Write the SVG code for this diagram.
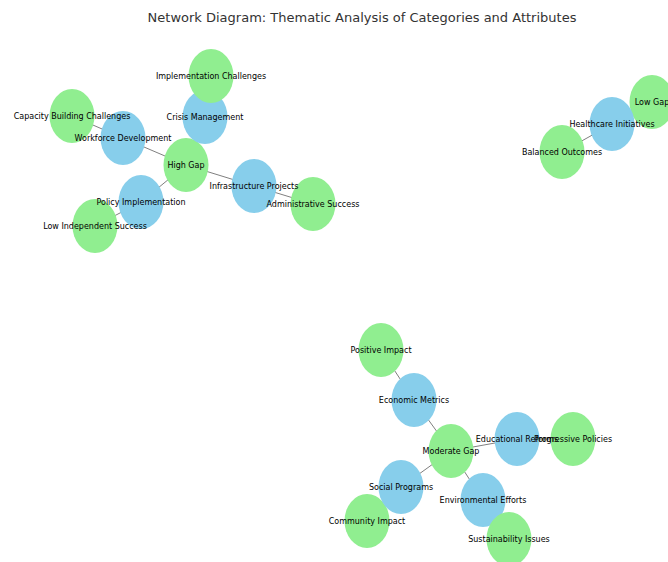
<svg xmlns="http://www.w3.org/2000/svg" width="668" height="562" viewBox="0 0 668 562">
<style>
.e{stroke:#808080;stroke-width:1}
.b{fill:#87CEEB}
.g{fill:#90EE90}
text{font-family:"DejaVu Sans",sans-serif;font-size:8px;fill:#000;text-anchor:middle;dominant-baseline:central}
.t{font-size:13px;fill:#333}
</style>
<rect width="668" height="562" fill="#fff"/>
<text class="t" x="362" y="17">Network Diagram: Thematic Analysis of Categories and Attributes</text>
<g id="connectors">
<line class="e" x1="211" y1="76" x2="205" y2="117"/>
<line class="e" x1="205" y1="117" x2="186" y2="165"/>
<line class="e" x1="72" y1="116" x2="123" y2="138"/>
<line class="e" x1="123" y1="138" x2="186" y2="165"/>
<line class="e" x1="186" y1="165" x2="254" y2="186"/>
<line class="e" x1="254" y1="186" x2="313" y2="204"/>
<line class="e" x1="186" y1="165" x2="141" y2="202"/>
<line class="e" x1="141" y1="202" x2="95" y2="226"/>
<line class="e" x1="562" y1="152" x2="612" y2="124"/>
<line class="e" x1="612" y1="124" x2="652" y2="102"/>
<line class="e" x1="381" y1="350" x2="414" y2="400"/>
<line class="e" x1="414" y1="400" x2="451" y2="451"/>
<line class="e" x1="451" y1="451" x2="517" y2="439"/>
<line class="e" x1="517" y1="439" x2="573" y2="439"/>
<line class="e" x1="451" y1="451" x2="401" y2="487"/>
<line class="e" x1="401" y1="487" x2="367" y2="521"/>
<line class="e" x1="451" y1="451" x2="483" y2="500"/>
<line class="e" x1="483" y1="500" x2="509" y2="539"/>
</g>
<g id="n-high-gap"><ellipse class="g" cx="186" cy="165" rx="22.5" ry="27"/></g>
<g id="n-capacity"><ellipse class="g" cx="72" cy="116" rx="22.5" ry="27"/></g>
<g id="n-workforce"><ellipse class="b" cx="123" cy="138" rx="22.5" ry="27"/></g>
<g id="n-crisis"><ellipse class="b" cx="205" cy="117" rx="22.5" ry="27"/></g>
<g id="n-impl"><ellipse class="g" cx="211" cy="76" rx="22.5" ry="27"/></g>
<g id="n-low-indep"><ellipse class="g" cx="95" cy="226" rx="22.5" ry="27"/></g>
<g id="n-policy"><ellipse class="b" cx="141" cy="202" rx="22.5" ry="27"/></g>
<g id="n-infra"><ellipse class="b" cx="254" cy="186" rx="22.5" ry="27"/></g>
<g id="n-admin"><ellipse class="g" cx="313" cy="204" rx="22.5" ry="27"/></g>
<g id="n-balanced"><ellipse class="g" cx="562" cy="152" rx="22.5" ry="27"/></g>
<g id="n-lowgap"><ellipse class="g" cx="652" cy="102" rx="22.5" ry="27"/></g>
<g id="n-health"><ellipse class="b" cx="612" cy="124" rx="22.5" ry="27"/></g>
<g id="n-positive"><ellipse class="g" cx="381" cy="350" rx="22.5" ry="27"/></g>
<g id="n-economic"><ellipse class="b" cx="414" cy="400" rx="22.5" ry="27"/></g>
<g id="n-moderate"><ellipse class="g" cx="451" cy="451" rx="22.5" ry="27"/></g>
<g id="n-educational"><ellipse class="b" cx="517" cy="439" rx="22.5" ry="27"/></g>
<g id="n-progressive"><ellipse class="g" cx="573" cy="439" rx="22.5" ry="27"/></g>
<g id="n-community"><ellipse class="g" cx="367" cy="521" rx="22.5" ry="27"/></g>
<g id="n-social"><ellipse class="b" cx="401" cy="487" rx="22.5" ry="27"/></g>
<g id="n-environmental"><ellipse class="b" cx="483" cy="500" rx="22.5" ry="27"/></g>
<g id="n-sustain"><ellipse class="g" cx="509" cy="539" rx="22.5" ry="27"/></g>
<g id="labels">
<text x="186" y="165">High Gap</text>
<text x="72" y="116">Capacity Building Challenges</text>
<text x="123" y="138">Workforce Development</text>
<text x="205" y="117">Crisis Management</text>
<text x="211" y="76">Implementation Challenges</text>
<text x="95" y="226">Low Independent Success</text>
<text x="141" y="202">Policy Implementation</text>
<text x="254" y="186">Infrastructure Projects</text>
<text x="313" y="204">Administrative Success</text>
<text x="562" y="152">Balanced Outcomes</text>
<text x="652" y="102">Low Gap</text>
<text x="612" y="124">Healthcare Initiatives</text>
<text x="381" y="350">Positive Impact</text>
<text x="414" y="400">Economic Metrics</text>
<text x="451" y="451">Moderate Gap</text>
<text x="517" y="439">Educational Reforms</text>
<text x="573" y="439">Progressive Policies</text>
<text x="367" y="521">Community Impact</text>
<text x="401" y="487">Social Programs</text>
<text x="483" y="500">Environmental Efforts</text>
<text x="509" y="539">Sustainability Issues</text>
</g>
</svg>
